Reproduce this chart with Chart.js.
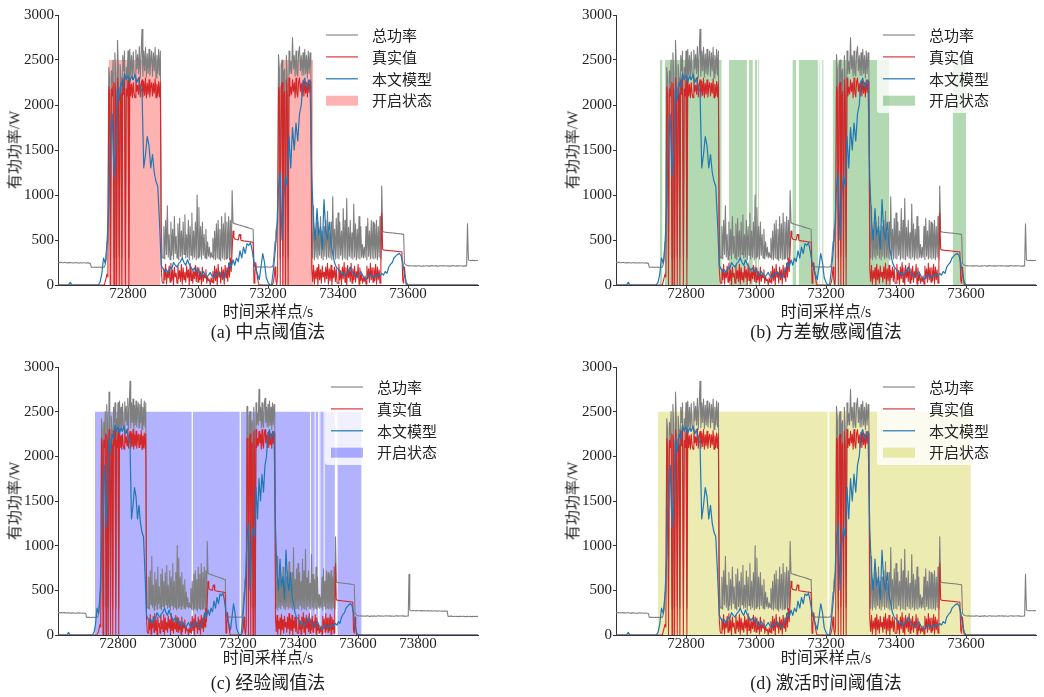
<!DOCTYPE html>
<html>
<head>
<meta charset="utf-8">
<script src="https://cdn.jsdelivr.net/npm/chart.js@4.4.0/dist/chart.umd.min.js"></script>
<style>
  body { margin: 0; background: #fff; width: 1044px; height: 697px; position: relative; overflow: hidden;
         font-family: "Liberation Serif", "Noto Sans CJK SC", serif; color: #222; }
  canvas { position: absolute; }
  .lbl { position: absolute; white-space: nowrap; line-height: 1; transform: translate(-50%, -50%); }
  .ytl { transform: translate(-50%, -50%) rotate(-90deg); }
</style>
</head>
<body>
<script>
const T0 = 72600;
const FINE_STEP = 2.5;   // total power and true value: one value every 2.5 s
const STEP = 5;          // model output: one value every 5 s

// 总功率 (40 values per 100 s)
const totalPower = [
  252,250,249,251,251,248,247,250,250,248,248,246,246,249,250,247,247,245,245,248,249,247,246,244,244,247,248,246,245,247,247,245,244,246,246,243,243,241,198,197, // 72600
  197,198,199,197,196,197,198,199,197,196,197,198,200,199,230,280,480,560,2420,2300,320,2380,2250,2500,300,2580,2350,310,2720,2400,320,2450,2300,300,2550,2380,2600,310,2420,2300, // 72700
  2600,300,2620,2330,2550,2280,2590,2350,2300,2610,2400,2560,2350,2650,2300,2560,2840,2320,2600,2380,2640,2310,2570,2350,2620,2330,2480,2600,2320,2580,2380,2640,2300,2550,2350,2620,2330,2600,700,320, // 72800
  300,650,290,720,340,880,310,560,280,700,330,620,290,760,350,540,300,680,280,740,320,600,290,700,340,780,300,560,310,720,280,650,330,800,290,600,310,700,280,1000, // 72900
  300,860,320,650,290,700,330,560,300,620,290,480,320,420,300,360,310,520,290,600,280,680,300,720,290,620,270,760,300,680,280,800,290,700,300,760,280,720,300,1050, // 73000
  690,686,682,679,676,673,670,667,664,661,658,655,652,649,646,643,640,637,634,631,628,625,622,620,210,207,205,203,200,201,202,200,198,199,200,201,199,200,201,200, // 73100
  200,199,198,200,202,201,230,350,480,600,650,700,2560,2400,300,2450,2500,320,2350,2400,300,2550,2300,310,2600,2350,2480,2350,2750,2400,2550,2320,2600,2350,2320,2580,2650,2380,2550,2330, // 73200
  2580,2330,2620,2350,2550,2300,2600,2350,2580,2400,600,300,880,280,620,310,700,290,560,330,760,300,600,280,650,320,720,290,820,310,580,300,700,280,980,320,620,290,740,300, // 73300
  800,290,700,330,600,280,850,300,720,290,960,280,640,320,720,300,580,290,900,310,680,280,620,300,760,290,650,310,450,300,420,310,650,280,740,320,600,290,720,300, // 73400
  700,290,680,300,720,280,650,310,760,290,1100,600,590,588,586,585,584,583,582,581,580,579,578,577,576,575,574,573,572,571,570,568,566,565,563,562,240,230,222,218, // 73500
  215,213,212,214,214,211,211,213,213,210,210,214,214,212,212,209,209,213,213,211,211,214,214,210,210,212,212,215,215,211,211,213,213,210,210,212,212,214,214,212, // 73600
  212,214,214,211,211,213,213,210,210,212,212,215,215,211,211,213,213,212,212,214,214,211,211,210,210,213,213,212,680,280,275,272,272,274,274,271,271,273,273,272, // 73700
  272,271,271,273,273,270,270,272,272,269,269,271,271,270,270,268,268,270,270,269,269,271,271,268,268,267,267,269,269,268,268,266,266,268,268,267,267,266,266,268, // 73800
  210,209,208,211,211,209,209,207,207,210,210,208,208,206,206,209,209,207,207,210,210,208,208,206,206,209,209,207,207,208,208,206,206,209,209,207,207,208,208,207, // 73900
  208 // 74000
];

// 真实值 (40 values per 100 s)
const trueValue = [
  0,0,0,0,0,0,0,0,0,0,0,0,0,0,0,0,0,0,0,0,0,0,0,0,0,0,0,0,0,0,0,0,0,0,0,0,0,0,0,0, // 72600
  0,0,0,0,0,0,0,0,0,0,0,0,0,0,40,80,120,90,2200,2120,0,2180,2100,2250,0,2240,2150,0,2300,2150,0,2200,2120,0,2280,2120,2300,0,2180,2100, // 72700
  2280,0,2300,2100,2230,2080,2250,2120,2080,2300,2150,2220,2120,2310,2090,2220,2280,2090,2260,2110,2300,2080,2240,2120,2280,2090,2200,2250,2100,2240,2130,2290,2080,2230,2100,2260,2090,2250,180,40, // 72800
  20,180,60,230,10,150,80,210,30,240,50,170,0,200,90,130,20,220,70,160,40,230,10,190,60,140,30,210,80,170,0,240,50,180,20,150,70,220,40,200, // 72900
  30,190,60,150,10,200,40,120,80,170,20,90,50,60,0,80,30,150,20,210,50,180,0,230,90,140,20,200,60,170,10,220,80,190,40,240,90,300,150,380, // 73000
  600,530,510,508,505,503,500,560,560,498,495,493,490,489,488,487,485,484,482,481,480,478,476,475,20,120,250,150,80,20,0,0,0,0,0,0,0,0,0,0, // 73100
  0,0,0,0,0,0,30,80,200,60,0,100,2200,2150,0,2200,2250,0,2100,2150,0,2280,2100,0,2300,2100,2200,2120,2280,2150,2250,2080,2300,2130,2090,2260,2300,2150,2240,2100, // 73200
  2270,2100,2260,2130,2250,2090,2280,2140,2260,2100,180,40,220,10,160,70,190,0,230,60,170,20,210,90,140,30,200,70,240,10,180,50,220,0,160,80,200,40,180,20, // 73300
  20,230,60,160,10,200,70,250,30,190,0,220,80,170,40,240,20,180,60,210,30,150,80,230,10,190,50,120,20,80,40,100,10,210,70,180,30,240,60,190, // 73400
  30,190,50,230,10,200,60,170,20,240,800,400,390,388,387,386,385,384,383,382,381,380,379,378,377,376,375,374,373,372,371,370,369,368,50,20,200,80,0,0, // 73500
  0,0,0,0,0,0,0,0,0,0,0,0,0,0,0,0,0,0,0,0,0,0,0,0,0,0,0,0,0,0,0,0,0,0,0,0,0,0,0,0, // 73600
  0,0,0,0,0,0,0,0,0,0,0,0,0,0,0,0,0,0,0,0,0,0,0,0,0,0,0,0,0,0,0,0,0,0,0,0,0,0,0,0, // 73700
  0,0,0,0,0,0,0,0,0,0,0,0,0,0,0,0,0,0,0,0,0,0,0,0,0,0,0,0,0,0,0,0,0,0,0,0,0,0,0,0, // 73800
  0,0,0,0,0,0,0,0,0,0,0,0,0,0,0,0,0,0,0,0,0,0,0,0,0,0,0,0,0,0,0,0,0,0,0,0,0,0,0,0, // 73900
  0 // 74000
];

// 本文模型 (20 values per 100 s)
const modelOut = [
  0,0,0,0,0,0,0,30,0,0,0,0,0,0,0,0,0,0,0,0,                                                   // 72600
  0,0,0,0,30,120,300,240,450,900,1650,1900,1200,1500,2200,2050,2250,2200,2350,2280,            // 72700
  2330,2260,2320,2280,2340,2250,2300,2200,2150,1300,1450,1650,1550,1300,1450,1250,1150,1100,700,220, // 72800
  180,150,170,130,200,180,250,220,200,240,260,300,250,220,280,230,200,160,190,150,              // 72900
  180,120,100,150,120,90,110,140,100,80,130,110,150,120,100,80,140,170,250,200,                 // 73000
  280,220,300,260,380,300,420,350,460,440,470,380,250,180,120,60,200,350,250,80,                // 73100
  30,0,0,150,350,600,1100,1250,500,1000,1200,1100,1650,1300,1750,1500,1800,1600,1900,2000,      // 73200
  2250,2300,2200,2250,2280,1200,700,500,850,550,650,400,950,600,500,700,450,350,250,200,        // 73300
  180,150,120,140,100,130,160,200,150,120,100,90,120,150,110,80,60,90,120,100,                  // 73400
  80,110,90,120,100,130,110,150,130,200,230,250,300,320,340,350,330,250,120,30,                 // 73500
  0,0,0,0,0,0,0,0,0,0,0,0,0,0,0,0,0,0,0,0,                                                     // 73600
  0,0,0,0,0,0,0,0,0,0,0,0,0,0,0,0,0,0,0,0,                                                     // 73700
  0,0,0,0,0,0,0,0,0,0,0,0,0,0,0,0,0,0,0,0,                                                     // 73800
  0,0,0,0,0,0,0,0,0,0,0,0,0,0,0,0,0,0,0,0,                                                     // 73900
  0                                                                                            // 74000
];

// 开启状态 spans [start, end] for each method
const onMid = [[72745, 72893], [73240, 73329]];
const onVar = [[72725, 72733], [72740, 72902], [72923, 72974], [72980, 72991], [72996, 73003],
               [73006, 73009], [73104, 73115], [73122, 73177], [73181, 73184], [73189, 73193],
               [73219, 73229], [73234, 73381], [73562, 73600]];
const onExp = [[72723, 73046], [73049, 73206], [73209, 73441], [73443, 73456], [73458, 73467],
               [73469, 73472], [73474, 73486], [73488, 73523], [73531, 73612]];
const onAct = [[72719, 73205], [73209, 73614]];
const onLevel = 2500;

const xTicksShort = [72800, 73000, 73200, 73400, 73600];
const xTicksLong = [72800, 73000, 73200, 73400, 73600, 73800];
const yTicks = [0, 500, 1000, 1500, 2000, 2500, 3000];
const seriesNames = ['总功率', '真实值', '本文模型', '开启状态'];

const FONT = '"Liberation Serif", "Noto Sans CJK SC", serif';

function pts(arr, step) {
  return arr.map((v, i) => ({ x: T0 + i * step, y: v }));
}

function spanPoints(spans) {
  const out = [];
  spans.forEach(([s, e]) => {
    out.push({ x: s, y: onLevel }, { x: e, y: onLevel }, { x: e, y: null });
  });
  return out;
}

// legend drawn inside the plot, like the original figure
const innerLegend = {
  id: 'innerLegend',
  afterDraw(chart, args, opts) {
    const ctx = chart.ctx, ca = chart.chartArea;
    const hx = ca.left + opts.dx;
    const rowY = ca.top + 20, rowGap = 21.9;
    ctx.save();
    ctx.fillStyle = 'rgba(255,255,255,0.8)';
    ctx.beginPath();
    if (ctx.roundRect) ctx.roundRect(hx - 6, ca.top + 7, 120, 91, 3);
    else ctx.rect(hx - 6, ca.top + 7, 120, 91);
    ctx.fill();
    ctx.font = '15px "Noto Sans CJK SC"';
    ctx.textBaseline = 'middle';
    chart.data.datasets.forEach((ds, i) => {
      const y = rowY + i * rowGap;
      if (ds.fill) {
        ctx.fillStyle = ds.backgroundColor;
        ctx.fillRect(hx, y - 5, 32, 10);
      } else {
        ctx.strokeStyle = ds.borderColor;
        ctx.lineWidth = ds.borderWidth;
        ctx.beginPath();
        ctx.moveTo(hx, y);
        ctx.lineTo(hx + 32, y);
        ctx.stroke();
      }
      ctx.fillStyle = '#222';
      ctx.fillText(ds.label, hx + 46, y);
    });
    ctx.restore();
  }
};

const panels = [
  { left: 0,   top: 0,   padTop: 15, xMax: 73800, xTicks: xTicksShort, spans: onMid,
    color: 'rgba(255,0,0,0.3)',    caption: '(a) 中点阈值法',     dx: 268, xtDy: 26.7, capDy: 47 },
  { left: 558, top: 0,   padTop: 15, xMax: 73800, xTicks: xTicksShort, spans: onVar,
    color: 'rgba(0,128,0,0.3)',    caption: '(b) 方差敏感阈值法', dx: 267, xtDy: 26.7, capDy: 47 },
  { left: 0,   top: 350, padTop: 17, xMax: 74000, xTicks: xTicksLong,  spans: onExp,
    color: 'rgba(0,0,255,0.3)',    caption: '(c) 经验阈值法',     dx: 273, xtDy: 23, capDy: 48 },
  { left: 558, top: 350, padTop: 17, xMax: 73800, xTicks: xTicksShort, spans: onAct,
    color: 'rgba(191,191,0,0.3)',  caption: '(d) 激活时间阈值法', dx: 267, xtDy: 23, capDy: 48 }
];

function addText(txt, x, y, size, cls) {
  const d = document.createElement('div');
  d.className = 'lbl' + (cls ? ' ' + cls : '');
  d.textContent = txt;
  d.style.left = x + 'px';
  d.style.top = y + 'px';
  d.style.fontSize = size + 'px';
  document.body.appendChild(d);
}

panels.forEach(p => {
  const cv = document.createElement('canvas');
  cv.width = 486;
  cv.height = 310;
  cv.style.left = p.left + 'px';
  cv.style.top = p.top + 'px';
  document.body.appendChild(cv);

  new Chart(cv, {
    type: 'line',
    data: {
      datasets: [
        { label: seriesNames[0], data: pts(totalPower, FINE_STEP), borderColor: '#7f7f7f', borderWidth: 1.1, order: 3 },
        { label: seriesNames[1], data: pts(trueValue, FINE_STEP), borderColor: '#d62728', borderWidth: 1.1, order: 2 },
        { label: seriesNames[2], data: pts(modelOut, STEP), borderColor: '#1f77b4', borderWidth: 1.2, order: 1 },
        { label: seriesNames[3], data: spanPoints(p.spans), borderColor: 'rgba(0,0,0,0)', borderWidth: 0,
          backgroundColor: p.color, fill: 'origin', spanGaps: false, order: 4 }
      ]
    },
    options: {
      responsive: false,
      animation: false,
      devicePixelRatio: 1,
      layout: { padding: { left: 0, top: p.padTop, right: 8, bottom: 0 } },
      elements: {
        point: { radius: 0 },
        line: { tension: 0, borderJoinStyle: 'round' }
      },
      plugins: {
        legend: { display: false },
        tooltip: { enabled: false },
        innerLegend: { dx: p.dx }
      },
      scales: {
        x: {
          type: 'linear',
          min: T0,
          max: p.xMax,
          afterBuildTicks: s => { s.ticks = p.xTicks.map(v => ({ value: v })); },
          afterFit: s => { s.height = 25; },
          ticks: { font: { family: FONT, size: 15 }, color: '#222', padding: -3,
                   maxRotation: 0, autoSkip: false, callback: v => String(v) },
          grid: { display: true, drawOnChartArea: false, drawTicks: true, tickLength: 3, color: '#333' },
          border: { display: true, color: '#333', width: 1 }
        },
        y: {
          min: 0,
          max: 3000,
          afterBuildTicks: s => { s.ticks = yTicks.map(v => ({ value: v })); },
          afterFit: s => { s.width = 58; },
          ticks: { font: { family: FONT, size: 15 }, color: '#222', padding: 1, callback: v => String(v) },
          grid: { display: true, drawOnChartArea: false, drawTicks: true, tickLength: 3, color: '#333' },
          border: { display: true, color: '#333', width: 1 }
        }
      }
    },
    plugins: [innerLegend]
  });

  const L = p.left + 58, R = p.left + 478, T = p.top + p.padTop, B = p.top + 285;
  addText('有功功率/W', L - 43, (T + B) / 2, 15, 'ytl');
  addText('时间采样点/s', (L + R) / 2, B + p.xtDy, 16);
  addText(p.caption, (L + R) / 2, B + p.capDy, 18);
});
</script>
</body>
</html>
